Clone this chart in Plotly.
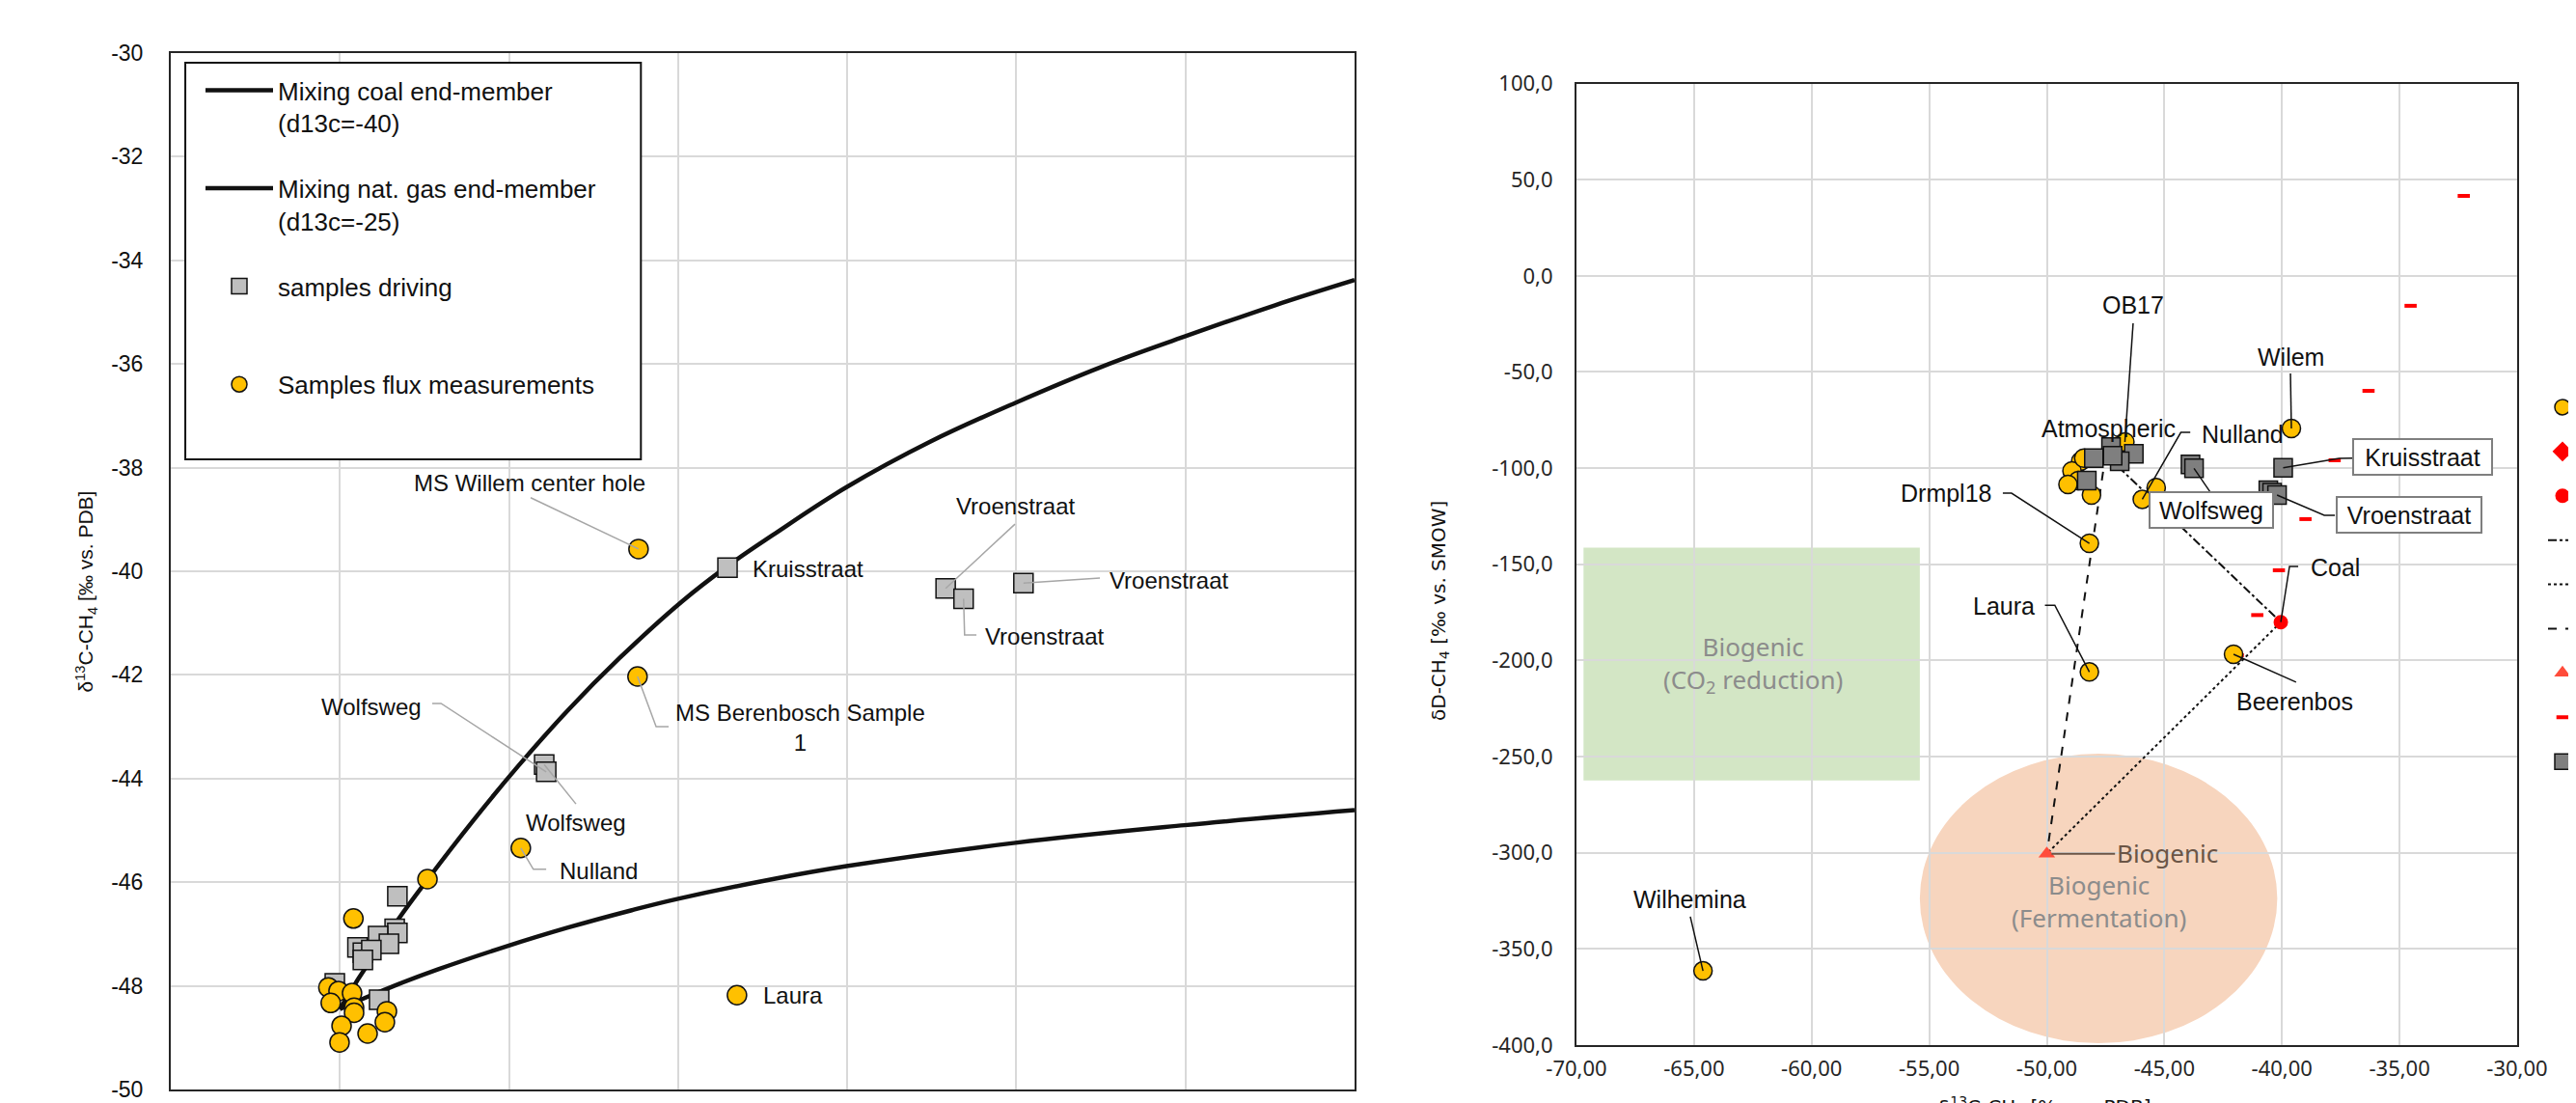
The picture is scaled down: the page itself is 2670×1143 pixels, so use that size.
import plotly.graph_objects as go

W, H = 2670, 1143

# ---------------- Left chart data ----------------
coal_mix_x = [-1.00, -0.944, -0.83, -0.741, -0.607, -0.473, -0.327, -0.174, 0.010, 0.146, 0.280, 0.497, 0.745, 0.997, 1.254, 1.498, 1.763, 2.0]
coal_mix_y = [-48.45, -47.85, -46.74, -45.95, -44.82, -43.76, -42.69, -41.68, -40.59, -39.90, -39.30, -38.38, -37.50, -36.75, -36.05, -35.47, -34.87, -34.38]

gas_mix_x = [-1.00, -0.932, -0.836, -0.709, -0.518, -0.328, -0.137, 0.0, 0.280, 0.498, 0.997, 1.497, 2.0]
gas_mix_y = [-48.45, -48.25, -47.99, -47.68, -47.26, -46.88, -46.54, -46.32, -45.94, -45.69, -45.24, -44.90, -44.61]

drive_x = [0.146, 0.791, 0.844, 1.021, -0.396, -0.390, -0.830, -0.838, -0.830, -0.887, -0.855, -0.948, -0.932, -0.907, -0.932, -1.015, -0.884]
drive_y = [-39.93, -40.33, -40.53, -40.23, -43.73, -43.87, -46.27, -46.90, -46.98, -47.04, -47.19, -47.26, -47.36, -47.31, -47.50, -47.95, -48.27]

flux_x = [-0.117, -0.120, -0.465, 0.174, -0.741, -0.960, -1.034, -1.004, -0.964, -1.027, -0.958, -0.958, -0.861, -0.867, -0.995, -0.918, -1.001]
flux_y = [-39.57, -42.03, -45.34, -48.18, -45.94, -46.70, -48.03, -48.10, -48.14, -48.33, -48.42, -48.52, -48.49, -48.70, -48.77, -48.92, -49.09]

left_xtick_vals = [-1.5, -1, -0.5, 0, 0.5, 1, 1.5, 2]
left_xtick_text = ["-1.5", "-1", "-0.5", "0", "0.5", "1", "1.5", "2"]
left_ytick_vals = [-50, -48, -46, -44, -42, -40, -38, -36, -34, -32, -30]
left_ytick_text = ["-50", "-48", "-46", "-44", "-42", "-40", "-38", "-36", "-34", "-32", "-30"]

# labels: text, x, y
left_lbl_text = ["MS Willem center hole", "MS Berenbosch Sample<br>1", "Wolfsweg", "Wolfsweg", "Nulland",
                 "Kruisstraat", "Vroenstraat", "Vroenstraat", "Vroenstraat", "Laura"]
left_lbl_x = [-0.438, 0.362, -0.907, -0.302, -0.234, 0.385, 0.999, 1.452, 1.084, 0.340]
left_lbl_y = [-38.29, -43.02, -42.61, -44.86, -45.79, -39.96, -38.75, -40.18, -41.25, -48.18]

# ---------------- Right chart data ----------------
flux2_x = [-46.68, -48.56, -48.93, -48.66, -49.10, -48.10, -48.43, -45.35, -45.94, -48.19, -48.19, -39.60, -42.06, -64.62]
flux2_y = [-86.4, -96.4, -101.4, -106.5, -108.5, -114.0, -94.8, -110.1, -116.2, -139.1, -206.0, -79.4, -196.8, -361.4]

drive2_x = [-47.27, -46.30, -48.00, -46.90, -47.20, -48.30, -43.89, -43.74, -39.95, -40.58, -40.42, -40.21]
drive2_y = [-89.0, -92.6, -94.8, -96.4, -93.6, -106.5, -98.1, -100.1, -99.8, -111.5, -112.8, -114.0]

gas2_x = [-32.27, -34.53, -36.32, -37.76, -39.00, -40.13, -41.05, -41.88]
gas2_y = [41.5, -15.6, -59.8, -95.9, -126.5, -153.1, -176.4, -197.3]

atm_x, atm_y = [-47.5], [-93.0]
coal_x, coal_y = [-40.05], [-180.1]
bio_x, bio_y = [-50.0], [-300.5]

right_xtick_vals = [-70, -65, -60, -55, -50, -45, -40, -35, -30]
right_xtick_text = ["-70,00", "-65,00", "-60,00", "-55,00", "-50,00", "-45,00", "-40,00", "-35,00", "-30,00"]
right_ytick_vals = [-400, -350, -300, -250, -200, -150, -100, -50, 0, 50, 100]
right_ytick_text = ["-400,0", "-350,0", "-300,0", "-250,0", "-200,0", "-150,0", "-100,0", "-50,0", "0,0", "50,0", "100,0"]

right_lbl_text = ["OB17", "Wilem", "Atmospheric", "Nulland", "Drmpl18", "Laura", "Coal", "Beerenbos", "Wilhemina"]
right_lbl_x = [-46.33, -39.64, -47.36, -41.69, -54.29, -51.83, -37.75, -39.44, -65.16]
right_lbl_y = [-15.1, -42.0, -79.4, -82.2, -113.0, -171.7, -151.6, -221.6, -324.1]

box_lbl_text = ["Kruisstraat", "Vroenstraat", "Wolfsweg"]
box_lbl_x = [-34.02, -34.59, -43.00]
box_lbl_y = [-94.4, -124.5, -122.0]
box_lbl_w = [140, 146, 124]

ARIAL = "Liberation Sans, Arial, sans-serif"
NOTO = "Noto Sans, Open Sans, sans-serif"
YELLOW = "#FFC000"

fig = go.Figure()

# ---- left traces ----
fig.add_trace(go.Scatter(x=coal_mix_x, y=coal_mix_y, mode="lines", line=dict(color="#111111", width=4.5, shape="spline", smoothing=1.1),
                         name="Mixing coal end-member<br>(d13c=-40)", legend="legend", legendgroup="a", xaxis="x", yaxis="y"))
fig.add_trace(go.Scatter(x=gas_mix_x, y=gas_mix_y, mode="lines", line=dict(color="#111111", width=4.5, shape="spline", smoothing=1.1),
                         name="Mixing nat. gas end-member<br>(d13c=-25)", legend="legend", legendgroup="b", xaxis="x", yaxis="y"))
fig.add_trace(go.Scatter(x=drive_x, y=drive_y, mode="markers",
                         marker=dict(symbol="square", size=20, color="#BFBFBF", line=dict(color="#111111", width=1.5)),
                         name="samples driving<br> ", legend="legend", legendgroup="c", xaxis="x", yaxis="y"))
fig.add_trace(go.Scatter(x=flux_x, y=flux_y, mode="markers",
                         marker=dict(symbol="circle", size=20, color=YELLOW, line=dict(color="#111111", width=1.5)),
                         name="Samples flux measurements<br> ", legend="legend", legendgroup="d", xaxis="x", yaxis="y"))

# ---- right traces ----
def mix(a_x, a_y, b_x, b_y):
    return [a_x[0], b_x[0]], [a_y[0], b_y[0]]

ac_x, ac_y = mix(atm_x, atm_y, coal_x, coal_y)
cb_x, cb_y = mix(coal_x, coal_y, bio_x, bio_y)
ab_x, ab_y = mix(atm_x, atm_y, bio_x, bio_y)

fig.add_trace(go.Scatter(x=ac_x, y=ac_y, mode="lines", line=dict(color="#111111", width=2, dash="dashdot"),
                         name="Mixing atmospheric - coal", legend="legend2", legendrank=4, xaxis="x2", yaxis="y2"))
fig.add_trace(go.Scatter(x=cb_x, y=cb_y, mode="lines", line=dict(color="#111111", width=2, dash="dot"),
                         name="Mixing coal - biogenic", legend="legend2", legendrank=5, xaxis="x2", yaxis="y2"))
fig.add_trace(go.Scatter(x=ab_x, y=ab_y, mode="lines", line=dict(color="#111111", width=2, dash="dash"),
                         name="Mixing atmospheric - biogenic", legend="legend2", legendrank=6, xaxis="x2", yaxis="y2"))
fig.add_trace(go.Scatter(x=gas2_x, y=gas2_y, mode="markers",
                         marker=dict(symbol="line-ew", size=9, color="#FF0000", line=dict(color="#FF0000", width=4)),
                         name="Natural gas", legend="legend2", legendrank=8, xaxis="x2", yaxis="y2"))
fig.add_trace(go.Scatter(x=atm_x, y=atm_y, mode="markers",
                         marker=dict(symbol="diamond", size=16, color="#FF0000"),
                         name="Atmospheric", legend="legend2", legendrank=2, xaxis="x2", yaxis="y2"))
fig.add_trace(go.Scatter(x=flux2_x, y=flux2_y, mode="markers",
                         marker=dict(symbol="circle", size=19, color=YELLOW, line=dict(color="#111111", width=1.5)),
                         name="Samples flux measurements", legend="legend2", legendrank=1, xaxis="x2", yaxis="y2"))
fig.add_trace(go.Scatter(x=drive2_x, y=drive2_y, mode="markers",
                         marker=dict(symbol="square", size=19, color="#7F7F7F", line=dict(color="#111111", width=1.5)),
                         name="Samples driving", legend="legend2", legendrank=9, xaxis="x2", yaxis="y2"))
fig.add_trace(go.Scatter(x=coal_x, y=coal_y, mode="markers",
                         marker=dict(symbol="circle", size=15, color="#FF0000"),
                         name="Coal", legend="legend2", legendrank=3, xaxis="x2", yaxis="y2"))
fig.add_trace(go.Scatter(x=bio_x, y=bio_y, mode="markers",
                         marker=dict(symbol="triangle-up", size=15, color="#FF4C3B"),
                         name="Biogenic", legend="legend2", legendrank=7, xaxis="x2", yaxis="y2"))

# ---- shapes ----
shapes = []
# left legend frame
shapes.append(dict(type="rect", xref="x", yref="y", x0=-1.457, x1=-0.110, y0=-30.186, y1=-37.84,
                   line=dict(color="#111111", width=2), fillcolor="white", layer="above"))
# background zones on right chart
shapes.append(dict(type="rect", xref="x2", yref="y2", x0=-69.7, x1=-55.4, y0=-141.3, y1=-262.4,
                   line=dict(width=0), fillcolor="rgb(211,230,197)", layer="below"))
shapes.append(dict(type="circle", xref="x2", yref="y2", x0=-55.4, x1=-40.2, y0=-248.5, y1=-399.0,
                   line=dict(width=0), fillcolor="rgb(247,213,190)", layer="below"))

def path(pts):
    return "M " + " L ".join(f"{a},{b}" for a, b in pts)

# left leaders (gray)
left_leaders = [
    [(-0.436, -38.58), (flux_x[0], flux_y[0])],
    [(flux_x[1], flux_y[1]), (-0.065, -43.0), (-0.028, -43.0)],
    [(-0.727, -42.55), (-0.701, -42.55), (drive_x[5], drive_y[5])],
    [(-0.302, -44.49), (drive_x[4], drive_y[4])],
    [(flux_x[2], flux_y[2]), (-0.428, -45.75), (-0.390, -45.75)],
    [(0.996, -39.09), (drive_x[1], drive_y[1])],
    [(1.247, -40.13), (drive_x[3], drive_y[3])],
    [(drive_x[2], drive_y[2]), (0.847, -41.23), (0.882, -41.23)],
]
for pts in left_leaders:
    shapes.append(dict(type="path", xref="x", yref="y", path=path(pts), line=dict(color="#A6A6A6", width=1.5), layer="above"))

# right leaders (black)
right_leaders = [
    [(-46.33, -24.7), (flux2_x[0], flux2_y[0])],
    [(-39.64, -50.8), (flux2_x[11], flux2_y[11])],
    [(-43.9, -81.4), (-44.3, -81.4), (flux2_x[8], flux2_y[8])],
    [(-51.87, -113.0), (-51.50, -113.0), (flux2_x[9], flux2_y[9])],
    [(-50.08, -171.3), (-49.66, -171.3), (flux2_x[10], flux2_y[10])],
    [(-36.97, -94.8), (-37.57, -94.9), (drive2_x[8], drive2_y[8])],
    [(-37.75, -124.5), (-38.2, -124.5), (drive2_x[11], drive2_y[11])],
    [(-43.06, -112.3), (drive2_x[7], drive2_y[7])],
    [(-39.31, -151.1), (-39.68, -151.1), (coal_x[0], coal_y[0])],
    [(-39.40, -211.3), (flux2_x[12], flux2_y[12])],
    [(-65.16, -333.2), (flux2_x[13], flux2_y[13])],
]
for pts in right_leaders:
    shapes.append(dict(type="path", xref="x2", yref="y2", path=path(pts), line=dict(color="#111111", width=1.5), layer="above"))
shapes.append(dict(type="path", xref="x2", yref="y2", path=path([(bio_x[0] + 0.2, bio_y[0]), (-47.1, bio_y[0])]),
                   line=dict(color="#6b5546", width=2), layer="above"))

# ---- annotations ----
ann = []
for t, x, y in zip(left_lbl_text, left_lbl_x, left_lbl_y):
    ann.append(dict(text=t, x=x, y=y, xref="x", yref="y", showarrow=False,
                    font=dict(family=ARIAL, size=24, color="#111111")))
for t, x, y in zip(right_lbl_text, right_lbl_x, right_lbl_y):
    ann.append(dict(text=t, x=x, y=y, xref="x2", yref="y2", showarrow=False,
                    font=dict(family=ARIAL, size=25, color="#111111")))
for t, x, y, w in zip(box_lbl_text, box_lbl_x, box_lbl_y, box_lbl_w):
    ann.append(dict(text=t, x=x, y=y, xref="x2", yref="y2", showarrow=False, width=w, height=33,
                    bgcolor="white", bordercolor="#7F7F7F", borderwidth=2, borderpad=1,
                    font=dict(family=ARIAL, size=25, color="#111111")))
ann.append(dict(text="Biogenic<br>(CO<sub>2</sub> reduction)", x=-62.5, y=-202, xref="x2", yref="y2", showarrow=False,
                font=dict(family=NOTO, size=26, color="#8c8c8c")))
ann.append(dict(text="Biogenic<br>(Fermentation)", x=-47.8, y=-325, xref="x2", yref="y2", showarrow=False,
                font=dict(family=NOTO, size=26, color="#8c8c8c")))
ann.append(dict(text="Biogenic", x=-44.87, y=-300.2, xref="x2", yref="y2", showarrow=False,
                font=dict(family=NOTO, size=26, color="#6b5546")))
# axis titles
ann.append(dict(text="δ<sup>13</sup>C-CH<sub>4</sub> [‰ vs. PDB]", x=64 / W, y=1 - 605 / H, xref="paper", yref="paper",
                textangle=-90, showarrow=False, font=dict(family=ARIAL, size=21, color="#111111")))
ann.append(dict(text="δD-CH<sub>4</sub> [‰ vs. SMOW]", x=1484 / W, y=1 - 625 / H, xref="paper", yref="paper",
                textangle=-90, showarrow=False, font=dict(family="DejaVu Sans, sans-serif", size=20, color="#111111")))
ann.append(dict(text="δ<sup>13</sup>C-CH<sub>4</sub> [‰ vs. PDB]", x=2224 / W, y=1 - 1156 / H, xref="paper", yref="paper",
                showarrow=False, font=dict(family="DejaVu Sans, sans-serif", size=20, color="#111111")))

grid = "#D9D9D9"
axis_common = dict(showgrid=True, gridcolor=grid, gridwidth=2, showline=True, linecolor="#262626", linewidth=2,
                   mirror=True, zeroline=False, ticks="")

fig.update_layout(
    width=W, height=H,
    margin=dict(l=0, r=0, t=0, b=0, autoexpand=False),
    paper_bgcolor="white", plot_bgcolor="white",
    xaxis=dict(domain=[169 / W, 1396 / W], range=[-1.5, 2], tickvals=left_xtick_vals, ticktext=left_xtick_text,
               tickfont=dict(family=ARIAL, size=23, color="#111111"), ticklabelstandoff=9, anchor="y", **axis_common),
    yaxis=dict(domain=[1 - 1121 / H, 1 - 47 / H], range=[-50, -30], tickvals=left_ytick_vals, ticktext=left_ytick_text,
               tickfont=dict(family=ARIAL, size=23, color="#111111"), ticklabelstandoff=22, anchor="x", **axis_common),
    xaxis2=dict(domain=[1626 / W, 2601 / W], range=[-70, -30], tickvals=right_xtick_vals, ticktext=right_xtick_text,
                tickfont=dict(family=NOTO, size=22, color="#262626"), ticklabelstandoff=4, anchor="y2", **axis_common),
    yaxis2=dict(domain=[1 - 1075 / H, 1 - 78.5 / H], range=[-400, 100], tickvals=right_ytick_vals, ticktext=right_ytick_text,
                tickfont=dict(family=NOTO, size=22, color="#262626"), ticklabelstandoff=18, anchor="x2", **axis_common),
    legend=dict(x=200 / W, y=1 - 62 / H, xanchor="left", yanchor="top", bgcolor="rgba(0,0,0,0)", borderwidth=0,
                font=dict(family=ARIAL, size=26, color="#111111"), itemwidth=70, tracegroupgap=31, valign="top"),
    legend2=dict(x=2628 / W, y=1 - 386 / H, xanchor="left", yanchor="top", bgcolor="rgba(0,0,0,0)", borderwidth=0,
                 font=dict(family=ARIAL, size=33, color="#111111"), itemwidth=30, tracegroupgap=0),
    shapes=shapes,
    annotations=ann,
    showlegend=True,
)

fig.write_html("out.html")
